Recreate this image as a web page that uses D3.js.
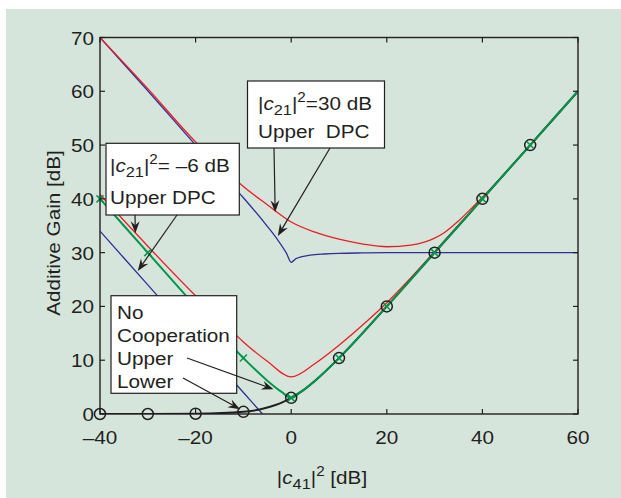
<!DOCTYPE html>
<html>
<head>
<meta charset="utf-8">
<script src="https://cdn.jsdelivr.net/npm/d3@7"></script>
<style>
  body { margin: 0; background: #fff; }
  text { font-family: "Liberation Sans", Arial, sans-serif; fill: #231f20; }
</style>
</head>
<body>
<svg id="chart" width="621" height="498"></svg>
<script>
// axis ticks
const xTicks = [-40, -20, 0, 20, 40, 60];
const yTicks = [0, 10, 20, 30, 40, 50, 60, 70];

// |c21|^2 = 30 dB, Upper DPC (blue) and upper bound (red)
const blue30X = [-40, -30, -20, -15, -10, -5, -3, -1, 0, 1, 2, 4, 7, 10, 15, 20, 30, 40, 50, 60];
const blue30Y = [70, 60.1, 50, 45.1, 40.2, 34.9, 32.6, 29.9, 28.2, 28.9, 29.2, 29.55, 29.75, 29.87, 29.95, 30, 30, 30, 30, 30];
const red30X = [-40, -30, -20, -15, -10, -5, 0, 5, 10, 15, 20, 25, 28, 30, 32, 35, 38, 40, 43, 50, 60];
const red30Y = [70, 60.5, 50.6, 46.3, 42.3, 38.9, 35.7, 33.8, 32.5, 31.6, 31.1, 31.4, 32.0, 32.7, 33.7, 35.9, 38.5, 40.3, 43.1, 50, 60];

// |c21|^2 = -6 dB
const blue6X = [-40, -30, -20, -10, -6];
const blue6Y = [34, 24, 14, 4, 0];
const red6X = [-40, -30, -20, -15, -10, -5, 0, 5, 10, 15, 20, 25, 30, 35, 40, 50, 60];
const red6Y = [40.8, 31.2, 22, 17.8, 13.4, 9.8, 6.9, 9.4, 12.8, 16.6, 20.7, 25.3, 30.2, 35.1, 40, 50, 60];

// no cooperation: upper (green, x) and lower (black, o)
const upperX = [-40, -30, -20, -10, -5, -2, 0, 2, 5, 10, 20, 30, 40, 50, 60];
const upperY = [40, 30, 20, 10.4, 6.2, 4.1, 3, 4.1, 6.2, 10.4, 20, 30, 40, 50, 60];
const lowerX = [-40, -30, -20, -10, -5, -2, 0, 2, 5, 10, 20, 30, 40, 50, 60];
const lowerY = [0, 0, 0.05, 0.4, 1.2, 2.1, 3, 4.1, 6.2, 10.4, 20, 30, 40, 50, 60];

const svg = d3.select('#chart');
const W = 621, H = 498;
const margin = { left: 100, right: 43, top: 37.5, bottom: 84 };
const SX = 1.09; // glyphs in the original are a bit wider than Arial
const FS = 19;

svg.append('rect').attr('x', 6).attr('y', 9).attr('width', W - 6).attr('height', H - 9).attr('fill', '#d6e5dc');

const x = d3.scaleLinear().domain([-40, 60]).range([margin.left, W - margin.right]);
const y = d3.scaleLinear().domain([0, 70]).range([H - margin.bottom, margin.top]);

const zip = (xs, ys) => xs.map((v, i) => [v, ys[i]]);

svg.append('clipPath').attr('id', 'clip')
    .append('rect')
    .attr('x', x(-40)).attr('y', y(70))
    .attr('width', x(60) - x(-40)).attr('height', y(0) - y(70));

const plot = svg.append('g').attr('clip-path', 'url(#clip)');
const line = d3.line().x(d => x(d[0])).y(d => y(d[1])).curve(d3.curveMonotoneX);

const series = [
    { pts: zip(blue30X, blue30Y), color: '#2e3192', w: 1.3 },
    { pts: zip(red30X, red30Y), color: '#ed1c24', w: 1.3 },
    { pts: zip(blue6X, blue6Y), color: '#2e3192', w: 1.3 },
    { pts: zip(red6X, red6Y), color: '#ed1c24', w: 1.3 },
    { pts: zip(lowerX, lowerY), color: '#231f20', w: 2 },
    { pts: zip(upperX, upperY), color: '#00964b', w: 2 }
];

series.forEach(s => {
    plot.append('path')
        .attr('d', line(s.pts))
        .attr('fill', 'none')
        .attr('stroke', s.color)
        .attr('stroke-width', s.w);
});

// markers every 10 dB
const marked = pts => pts.filter(p => p[0] % 10 === 0 && p[0] < 60);

svg.append('g').selectAll('circle')
    .data(marked(zip(lowerX, lowerY)))
    .enter().append('circle')
    .attr('cx', d => x(d[0]))
    .attr('cy', d => y(d[1]))
    .attr('r', 5.5)
    .attr('fill', 'none')
    .attr('stroke', '#231f20')
    .attr('stroke-width', 1.5);

svg.append('g').selectAll('path')
    .data(marked(zip(upperX, upperY)))
    .enter().append('path')
    .attr('d', d => {
        const cx = x(d[0]), cy = y(d[1]), s = 3.5;
        return `M${cx - s},${cy - s}L${cx + s},${cy + s}M${cx - s},${cy + s}L${cx + s},${cy - s}`;
    })
    .attr('stroke', '#00964b')
    .attr('stroke-width', 1.5);

// axes box
const axisColor = '#231f20';
svg.append('rect')
    .attr('x', x(-40)).attr('y', y(70))
    .attr('width', x(60) - x(-40)).attr('height', y(0) - y(70))
    .attr('fill', 'none').attr('stroke', axisColor).attr('stroke-width', 1.4);

const tickLen = 5;
xTicks.forEach(t => {
    svg.append('line').attr('x1', x(t)).attr('x2', x(t)).attr('y1', y(0)).attr('y2', y(0) - tickLen)
        .attr('stroke', axisColor).attr('stroke-width', 1.2);
    svg.append('line').attr('x1', x(t)).attr('x2', x(t)).attr('y1', y(70)).attr('y2', y(70) + tickLen)
        .attr('stroke', axisColor).attr('stroke-width', 1.2);
});
yTicks.forEach(t => {
    svg.append('line').attr('x1', x(-40)).attr('x2', x(-40) + tickLen).attr('y1', y(t)).attr('y2', y(t))
        .attr('stroke', axisColor).attr('stroke-width', 1.2);
    svg.append('line').attr('x1', x(60)).attr('x2', x(60) - tickLen).attr('y1', y(t)).attr('y2', y(t))
        .attr('stroke', axisColor).attr('stroke-width', 1.2);
});

const fmt = v => v < 0 ? '\u2013' + Math.abs(v) : String(v);

// text helper: stretched a little horizontally
const label = (parent, px, py, anchor, rot = 0) => parent.append('text')
    .attr('transform', `translate(${px},${py}) rotate(${rot}) scale(${SX},1)`)
    .attr('text-anchor', anchor)
    .style('font-size', FS + 'px');

xTicks.forEach(t => label(svg, x(t), 444, 'middle').text(fmt(t)));
yTicks.forEach(t => label(svg, x(-40) - 6, y(t) + 7, 'end').text(fmt(t)));

label(svg, 60, 233, 'middle', -90).text('Additive Gain [dB]');

const xl = label(svg, 322, 484, 'middle');
xl.append('tspan').text('|');
xl.append('tspan').style('font-style', 'italic').text('c');
xl.append('tspan').attr('dy', 5).style('font-size', '15px').text('41');
xl.append('tspan').attr('dy', -5).text('|');
xl.append('tspan').attr('dy', -8).style('font-size', '14px').text('2');
xl.append('tspan').attr('dy', 8).text(' [dB]');

// annotations
const arrow = (x1, y1, x2, y2) => {
    const a = Math.atan2(y2 - y1, x2 - x1);
    const L = 12, Wd = 4.5, N = 8;
    const p = (l, w) => [x2 - l * Math.cos(a) - w * Math.sin(a), y2 - l * Math.sin(a) + w * Math.cos(a)];
    svg.append('line').attr('x1', x1).attr('y1', y1)
        .attr('x2', p(N, 0)[0]).attr('y2', p(N, 0)[1])
        .attr('stroke', '#231f20').attr('stroke-width', 1.2);
    svg.append('path')
        .attr('d', 'M' + [[x2, y2], p(L, Wd), p(N, 0), p(L, -Wd)].map(q => q.join(',')).join('L') + 'Z')
        .attr('fill', '#231f20');
};

const box = (x0, y0, x1, y1) => svg.append('rect')
    .attr('x', x0).attr('y', y0).attr('width', x1 - x0).attr('height', y1 - y0)
    .attr('fill', '#fff').attr('stroke', '#231f20').attr('stroke-width', 1.2);

const c21 = (px, py, rest) => {
    const t = label(svg, px, py, 'start');
    t.append('tspan').text('|');
    t.append('tspan').style('font-style', 'italic').text('c');
    t.append('tspan').attr('dy', 5).style('font-size', '15px').text('21');
    t.append('tspan').attr('dy', -5).text('|');
    t.append('tspan').attr('dy', -8).style('font-size', '14px').text('2');
    t.append('tspan').attr('dy', 8).text(rest);
};

// |c21|^2 = 30 dB
box(247.5, 81, 384.5, 148);
c21(258, 110, '=30 dB');
label(svg, 258, 138, 'start').attr('xml:space', 'preserve').text('Upper  DPC');
arrow(274, 148, x(-3.35), y(37.5));
arrow(330, 148, x(-2.8), y(33.1));

// |c21|^2 = -6 dB
box(106, 143.3, 239.3, 215);
c21(110, 171.5, '= \u20136 dB');
label(svg, 110, 204, 'start').text('Upper DPC');
arrow(135, 215, x(-32.6), y(33.6));
arrow(177, 215, x(-32.1), y(26.6));

// no cooperation
box(111, 295.7, 236.7, 393.3);
['No', 'Cooperation', 'Upper', 'Lower'].forEach((s, i) => label(svg, 117, 319 + i * 23, 'start').text(s));
arrow(187, 358, x(-3.7), y(4.6));
arrow(183, 378, x(-10.7), y(0.9));
</script>
</body>
</html>
